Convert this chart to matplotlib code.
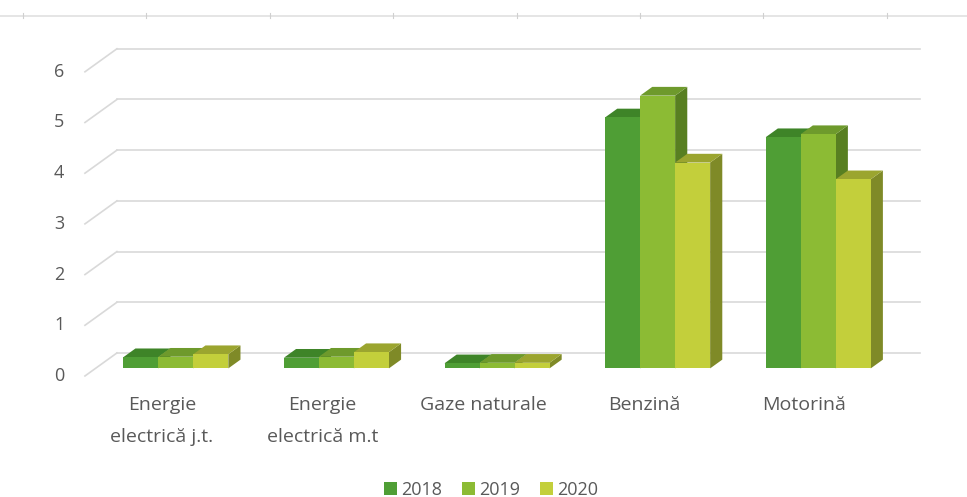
import numpy as np
import matplotlib
matplotlib.use('Agg')
from matplotlib import pyplot
from matplotlib.patches import Polygon, Patch


#data:
categories = ['Energie\nelectrică j.t.', 'Energie\nelectrică m.t', 'Gaze naturale', 'Benzină', 'Motorină']
years      = ['2018', '2019', '2020']
v2018      = [0.22, 0.21, 0.10, 4.95, 4.56]
v2019      = [0.23, 0.23, 0.11, 5.38, 4.62]
v2020      = [0.28, 0.32, 0.11, 4.06, 3.73]
yticks     = [0, 1, 2, 3, 4, 5, 6]

#colours (front, top, side):
front = ['#4f9e35', '#8cbb34', '#c3cf3b']
top   = ['#3e8428', '#6e9a2c', '#9ba52f']
side  = ['#3f7a24', '#587f21', '#7f8a27']
grid  = '#d9d9d9'
tcol  = '#595959'

#oblique depth vector (data units for full floor depth):
DX, DY = 0.199, 0.454
d0, d1 = 0.33, 0.71      #front / back of bars (fraction of depth)
w      = 0.218           #bar width

pyplot.rcParams['font.family'] = ['Open Sans', 'DejaVu Sans']
fig = pyplot.figure(figsize=(9.67, 4.97), dpi=100)
ax  = fig.add_axes([0, 0, 1, 1])
ax.set_xlim(-1.029, 4.992)
ax.set_ylim(-2.387, 7.416)
ax.axis('off')

x0, x1 = -0.5, len(categories) - 0.5

#back wall gridlines and side wall diagonals:
for t in yticks:
    ax.plot([x0 + DX, x1 + DX], [t + DY, t + DY], color=grid, lw=1.2, zorder=1)
    ax.plot([x0, x0 + DX], [t, t + DY], color=grid, lw=1.2, zorder=1)
    ax.text(x0 - 0.16, t, str(t), ha='center', va='center', fontsize=13, color=tcol)

#bars:
series = [v2018, v2019, v2020]
z = 2
for i in range(len(categories)):
    for j, vals in enumerate(series):
        v  = vals[i]
        xl = i + (j - 1) * w - w / 2 + DX * d0
        xr = xl + w
        yb = DY * d0
        yt = yb + v
        ddx, ddy = DX * (d1 - d0), DY * (d1 - d0)
        ax.add_patch(Polygon([(xr, yb), (xr + ddx, yb + ddy), (xr + ddx, yt + ddy), (xr, yt)],
                             closed=True, facecolor=side[j], edgecolor='none', zorder=z))
        ax.add_patch(Polygon([(xl, yt), (xr, yt), (xr + ddx, yt + ddy), (xl + ddx, yt + ddy)],
                             closed=True, facecolor=top[j], edgecolor='none', zorder=z))
        ax.bar(xl, v, width=w, bottom=yb, align='edge', color=front[j], edgecolor='none', zorder=z + 0.5)
        z += 1

#category labels:
for i, c in enumerate(categories):
    ax.text(i - 0.02, -0.4, c, ha='center', va='top', fontsize=14, color=tcol, linespacing=1.95)

#thin top strip:
ax.plot([-1.029, 4.992], [7.1, 7.1], color='#e0e0e0', lw=1.2, zorder=1)
for k in range(8):
    xk = -1.029 + (23 + 123.4 * k) / 160.6
    ax.plot([xk, xk], [7.06, 7.16], color='#d0d0d0', lw=0.8, zorder=1)

handles = [Patch(facecolor=front[j], edgecolor='none') for j in range(3)]
fig.legend(handles, years, loc='lower center', bbox_to_anchor=(0.508, -0.036), ncol=3, frameon=False,
           fontsize=13, labelcolor=tcol, handlelength=0.7, handleheight=0.7,
           handletextpad=0.25, columnspacing=1.1)

pyplot.savefig('out.png', dpi=100)
